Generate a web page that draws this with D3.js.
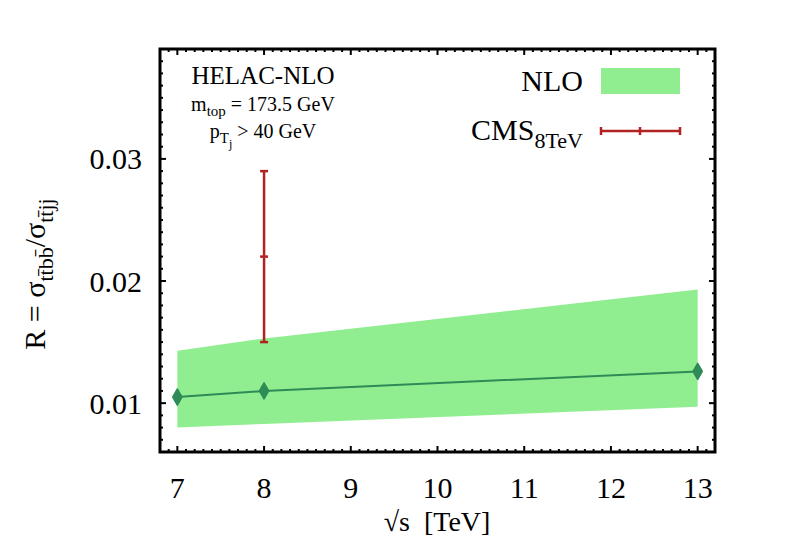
<!DOCTYPE html>
<html>
<head>
<meta charset="utf-8">
<script src="https://cdn.jsdelivr.net/npm/d3@7"></script>
<style>
  body { margin: 0; background: #fff; }
  text { font-family: "Liberation Serif", "Times New Roman", serif; fill: #000; }
</style>
</head>
<body>
<div class="container"></div>
<script>
// NLO prediction (HELAC-NLO) and CMS 8 TeV measurement
var energies = [7, 8, 13];
var nloCentral = [0.0105, 0.0110, 0.0126];
var nloLow = [0.0080, 0.0083, 0.0097];
var nloHigh = [0.0143, 0.0153, 0.0193];

var cmsEnergy = [8];
var cmsValue = [0.022];
var cmsLow = [0.015];
var cmsHigh = [0.029];

var xTicks = [7, 8, 9, 10, 11, 12, 13];
var yTicks = [0.01, 0.02, 0.03];

var W = 789, H = 552;
var margin = {top: 49, right: 74, bottom: 100, left: 160},
    width = W - margin.left - margin.right,
    height = H - margin.top - margin.bottom;

var svg = d3.select(".container")
  .append("svg")
    .attr("width", W)
    .attr("height", H);

var g = svg.append("g")
  .attr("transform", "translate(" + margin.left + "," + margin.top + ")");

var x = d3.scaleLinear().domain([6.8, 13.2]).range([0, width]);
var y = d3.scaleLinear().domain([0.006, 0.039]).range([height, 0]);

var nlo = energies.map(function(e, i) {
  return {e: e, c: nloCentral[i], lo: nloLow[i], hi: nloHigh[i]};
});

// band
g.append("path")
  .datum(nlo)
  .attr("fill", "#90ee90")
  .attr("d", d3.area()
    .x(function(d) { return x(d.e); })
    .y0(function(d) { return y(d.lo); })
    .y1(function(d) { return y(d.hi); }));

// central line
g.append("path")
  .datum(nlo)
  .attr("fill", "none")
  .attr("stroke", "#2e8b57")
  .attr("stroke-width", 2)
  .attr("d", d3.line()
    .x(function(d) { return x(d.e); })
    .y(function(d) { return y(d.c); }));

g.append("g")
  .selectAll("path")
  .data(nlo)
  .enter()
  .append("path")
    .attr("transform", function(d) { return "translate(" + x(d.e) + "," + y(d.c) + ")"; })
    .attr("d", d3.symbol().type(d3.symbolDiamond).size(75))
    .attr("fill", "#2e8b57")
    .attr("stroke", "#2e8b57")
    .attr("stroke-width", 1.5)
    .attr("stroke-linejoin", "round");

// CMS error bar
var cms = cmsEnergy.map(function(e, i) {
  return {e: e, v: cmsValue[i], lo: cmsLow[i], hi: cmsHigh[i]};
});
var red = "#b22222";
var cmsG = g.append("g").selectAll("g").data(cms).enter().append("g");
cmsG.append("line")
  .attr("x1", function(d) { return x(d.e); })
  .attr("x2", function(d) { return x(d.e); })
  .attr("y1", function(d) { return y(d.lo); })
  .attr("y2", function(d) { return y(d.hi); })
  .attr("stroke", red).attr("stroke-width", 2.5);
["lo", "v", "hi"].forEach(function(k) {
  cmsG.append("line")
    .attr("x1", function(d) { return x(d.e) - 4; })
    .attr("x2", function(d) { return x(d.e) + 4; })
    .attr("y1", function(d) { return y(d[k]); })
    .attr("y2", function(d) { return y(d[k]); })
    .attr("stroke", red).attr("stroke-width", 2.5);
});

// ticks (inward, all four sides)
var xMinor = d3.range(68, 133).map(function(v) { return v / 10; });
var yMinor = d3.range(6, 40).map(function(v) { return v / 1000; });
var tk = g.append("g").attr("stroke", "#000").attr("stroke-width", 2);
xMinor.forEach(function(v) {
  var len = xTicks.indexOf(v) >= 0 ? 6 : 3;
  tk.append("line").attr("x1", x(v)).attr("x2", x(v)).attr("y1", height).attr("y2", height - len);
  tk.append("line").attr("x1", x(v)).attr("x2", x(v)).attr("y1", 0).attr("y2", len);
});
yMinor.forEach(function(v) {
  var major = yTicks.some(function(t) { return Math.abs(t - v) < 1e-9; });
  var len = major ? 6 : 3;
  tk.append("line").attr("y1", y(v)).attr("y2", y(v)).attr("x1", 0).attr("x2", len);
  tk.append("line").attr("y1", y(v)).attr("y2", y(v)).attr("x1", width).attr("x2", width - len);
});

// frame
g.append("rect")
  .attr("width", width).attr("height", height)
  .attr("fill", "none").attr("stroke", "#000").attr("stroke-width", 3);

// tick labels
g.append("g").selectAll("text").data(xTicks).enter().append("text")
  .attr("x", function(d) { return x(d); })
  .attr("y", height + 46)
  .attr("text-anchor", "middle")
  .style("font-size", "30px")
  .text(function(d) { return d; });

g.append("g").selectAll("text").data(yTicks).enter().append("text")
  .attr("x", -18)
  .attr("y", function(d) { return y(d); })
  .attr("dy", "0.35em")
  .attr("text-anchor", "end")
  .style("font-size", "30px")
  .text(function(d) { return d3.format(".2f")(d); });

// axis titles
svg.append("text")
  .attr("x", 437).attr("y", 531)
  .attr("text-anchor", "middle")
  .style("font-size", "28px")
  .attr("xml:space", "preserve")
  .text("\u221As  [TeV]");

var yl = svg.append("text")
  .attr("transform", "translate(45,274) rotate(-90)")
  .attr("text-anchor", "middle")
  .style("font-size", "30px");
yl.append("tspan").text("R = \u03c3");
yl.append("tspan").attr("dy", 8).style("font-size", "22px").text("tt\u0304bb\u0304");
yl.append("tspan").attr("dy", -8).text("/\u03c3");
yl.append("tspan").attr("dy", 8).style("font-size", "22px").text("tt\u0304jj");

// annotation
svg.append("text").attr("x", 263).attr("y", 84).attr("text-anchor", "middle")
  .style("font-size", "25px").text("HELAC-NLO");
var m = svg.append("text").attr("x", 263).attr("y", 111).attr("text-anchor", "middle")
  .style("font-size", "20px");
m.append("tspan").text("m");
m.append("tspan").attr("dy", 5).style("font-size", "15px").text("top");
m.append("tspan").attr("dy", -5).text(" = 173.5 GeV");
var p = svg.append("text").attr("x", 263).attr("y", 138).attr("text-anchor", "middle")
  .style("font-size", "20px");
p.append("tspan").text("p");
p.append("tspan").attr("dy", 5).style("font-size", "15px").text("T");
p.append("tspan").attr("dy", 5).style("font-size", "12px").text("j");
p.append("tspan").attr("dy", -10).text(" > 40 GeV");

// legend
svg.append("text").attr("x", 583).attr("y", 91).attr("text-anchor", "end")
  .style("font-size", "30px").text("NLO");
svg.append("rect").attr("x", 601).attr("y", 68).attr("width", 79).attr("height", 26)
  .attr("fill", "#90ee90");

var c = svg.append("text").attr("x", 583).attr("y", 140).attr("text-anchor", "end")
  .style("font-size", "30px");
c.append("tspan").text("CMS");
c.append("tspan").attr("dy", 8).style("font-size", "22px").text("8TeV");
var lg = svg.append("g").attr("stroke", red).attr("stroke-width", 2.5);
lg.append("line").attr("x1", 601).attr("x2", 680).attr("y1", 131).attr("y2", 131);
[601, 640, 680].forEach(function(px) {
  lg.append("line").attr("x1", px).attr("x2", px).attr("y1", 127).attr("y2", 135);
});
</script>
</body>
</html>
